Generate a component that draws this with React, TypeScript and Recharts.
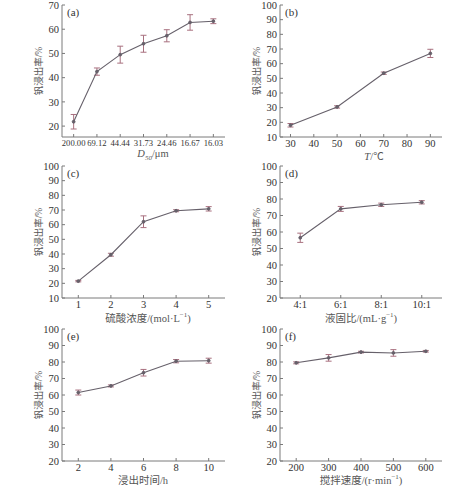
import React from 'react';
import { LineChart, Line, XAxis, YAxis, ErrorBar } from 'recharts';

// (a) particle size
const sizeLabels = ['200.00', '69.12', '44.44', '31.73', '24.46', '16.67', '16.03'];
const sizeValues = [21.8, 42.5, 49.5, 54, 57.3, 62.8, 63.3];
const sizeErrors = [3, 1.5, 3.5, 3.5, 2.5, 3.2, 1];

// (b) temperature
const temps = [30, 50, 70, 90];
const tempValues = [18, 30.5, 53.5, 67];
const tempErrors = [1.2, 0.8, 0.8, 2.8];

// (c) acid concentration
const concs = [1, 2, 3, 4, 5];
const concValues = [21.5, 39.5, 62, 69.5, 70.8];
const concErrors = [0.5, 1, 4, 0.7, 1.5];

// (d) liquid/solid ratio
const ratioLabels = ['4:1', '6:1', '8:1', '10:1'];
const ratioValues = [56.5, 74, 76.5, 78];
const ratioErrors = [2.8, 1.5, 1, 1];

// (e) leaching time
const times = [2, 4, 6, 8, 10];
const timeValues = [61.5, 65.5, 73.5, 80.5, 80.8];
const timeErrors = [1.5, 0.6, 2, 1, 1.5];

// (f) stirring speed
const speeds = [200, 300, 400, 500, 600];
const speedValues = [79.5, 82.5, 86, 85.5, 86.5];
const speedErrors = [0.6, 2, 0.5, 2, 0.5];

const FONT = '"Liberation Serif", "Noto Sans CJK SC", serif';
const AXIS = '#7a7a7a';
const TEXT = '#333';
const LINE = '#66606a';
const ERR = '#a8707f';
const Y_LABEL = '钒浸出率/%';

const build = (xs: (number | string)[], ys: number[], errs: number[], useIndex = false) =>
    xs.map((x, i) => ({ x: useIndex ? i : x, y: ys[i], err: errs[i] }));

interface PanelProps {
    left: number;
    top: number;
    data: { x: number | string; y: number; err: number }[];
    xDomain: [number, number];
    xTicks: number[];
    xFormat?: (v: number) => string;
    yDomain: [number, number];
    yTicks: number[];
    axisLeft: number;
    plotTop: number;
    plotBottom: number;
    plotRight: number;
    tag: string;
    xLabel: React.ReactNode;
    xLabelX: number;
    xTickSize?: number;
}

const Panel: React.FC<PanelProps> = (p) => {
    const W = 237;
    const H = 162;
    const tick = { fill: TEXT, fontSize: 10.5, fontFamily: FONT };
    return (
        <div style={{ position: 'absolute', left: p.left, top: p.top, width: W, height: H }}>
            <LineChart
                width={W}
                height={H}
                data={p.data}
                style={{ overflow: 'visible' }}
                margin={{ top: p.plotTop, right: W - p.plotRight, left: 0, bottom: 0 }}
            >
                <XAxis
                    dataKey="x"
                    type="number"
                    domain={p.xDomain}
                    ticks={p.xTicks}
                    interval={0}
                    tickFormatter={p.xFormat}
                    height={H - p.plotBottom}
                    tick={{ ...tick, fontSize: p.xTickSize || 10.5 }}
                    tickSize={-3}
                    tickMargin={6}
                    axisLine={{ stroke: AXIS }}
                    tickLine={{ stroke: AXIS }}
                />
                <YAxis
                    type="number"
                    domain={p.yDomain}
                    ticks={p.yTicks}
                    interval={0}
                    width={p.axisLeft}
                    tick={tick}
                    tickSize={-3}
                    tickMargin={6}
                    axisLine={{ stroke: AXIS }}
                    tickLine={{ stroke: AXIS }}
                />
                <Line
                    dataKey="y"
                    stroke={LINE}
                    strokeWidth={1.1}
                    dot={{ r: 1.4, fill: LINE, stroke: LINE, strokeWidth: 1 }}
                    isAnimationActive={false}
                >
                    <ErrorBar dataKey="err" width={3} stroke={ERR} strokeWidth={1} isAnimationActive={false} />
                </Line>
            </LineChart>
            <div style={{ position: 'absolute', left: p.axisLeft + 5, top: p.plotTop + 1, fontSize: 11, fontFamily: FONT, color: TEXT }}>
                {p.tag}
            </div>
            <div
                style={{
                    position: 'absolute',
                    left: p.axisLeft - 24,
                    top: (p.plotTop + p.plotBottom) / 2,
                    transform: 'translate(-50%, -50%) rotate(-90deg)',
                    fontSize: 9.5,
                    fontFamily: FONT,
                    color: '#555',
                    whiteSpace: 'nowrap',
                }}
            >
                {Y_LABEL}
            </div>
            <div
                style={{
                    position: 'absolute',
                    left: p.xLabelX,
                    top: 155,
                    transform: 'translate(-50%, -50%)',
                    fontSize: 10.5,
                    fontFamily: FONT,
                    color: '#555',
                    whiteSpace: 'nowrap',
                }}
            >
                {p.xLabel}
            </div>
        </div>
    );
};

const App: React.FC = () => {
    const y100 = [10, 20, 30, 40, 50, 60, 70, 80, 90, 100];
    const y100b = [20, 30, 40, 50, 60, 70, 80, 90, 100];
    return (
        <div style={{ position: 'absolute', left: 0, top: 0, width: 474, height: 486, background: '#fff' }}>
            <Panel
                left={0} top={0}
                data={build(sizeLabels, sizeValues, sizeErrors, true)}
                xDomain={[-0.5, 6.5]}
                xTicks={sizeLabels.map((_, i) => i)}
                xFormat={(v) => sizeLabels[v]}
                xTickSize={8.6}
                yDomain={[15.5, 70]}
                yTicks={[20, 30, 40, 50, 60, 70]}
                axisLeft={62} plotTop={5} plotBottom={137} plotRight={225}
                tag="(a)"
                xLabel={<span><i>D</i><sub style={{ fontSize: 7 }}><i>50</i></sub>/μm</span>}
                xLabelX={153}
            />
            <Panel
                left={237} top={0}
                data={build(temps, tempValues, tempErrors)}
                xDomain={[25.5, 95]}
                xTicks={[30, 40, 50, 60, 70, 80, 90]}
                yDomain={[10, 100]}
                yTicks={y100}
                axisLeft={43} plotTop={5} plotBottom={137} plotRight={205}
                tag="(b)"
                xLabel={<span><i>T</i>/℃</span>}
                xLabelX={137}
            />
            <Panel
                left={0} top={162}
                data={build(concs, concValues, concErrors)}
                xDomain={[0.5, 5.5]}
                xTicks={concs}
                yDomain={[10, 100]}
                yTicks={y100}
                axisLeft={62} plotTop={4} plotBottom={136} plotRight={225}
                tag="(c)"
                xLabel={<span>硫酸浓度/(mol·L<sup style={{ fontSize: 7 }}>−1</sup>)</span>}
                xLabelX={148}
            />
            <Panel
                left={237} top={162}
                data={build(ratioLabels, ratioValues, ratioErrors, true)}
                xDomain={[-0.5, 3.5]}
                xTicks={ratioLabels.map((_, i) => i)}
                xFormat={(v) => ratioLabels[v]}
                yDomain={[20, 100]}
                yTicks={y100b}
                axisLeft={43} plotTop={4} plotBottom={136} plotRight={205}
                tag="(d)"
                xLabel={<span>液固比/(mL·g<sup style={{ fontSize: 7 }}>−1</sup>)</span>}
                xLabelX={124}
            />
            <Panel
                left={0} top={324}
                data={build(times, timeValues, timeErrors)}
                xDomain={[1, 11]}
                xTicks={times}
                yDomain={[20, 100]}
                yTicks={y100b}
                axisLeft={62} plotTop={5} plotBottom={137} plotRight={225}
                tag="(e)"
                xLabel={<span>浸出时间/h</span>}
                xLabelX={143}
            />
            <Panel
                left={237} top={324}
                data={build(speeds, speedValues, speedErrors)}
                xDomain={[150, 650]}
                xTicks={speeds}
                yDomain={[20, 100]}
                yTicks={y100b}
                axisLeft={43} plotTop={5} plotBottom={137} plotRight={205}
                tag="(f)"
                xLabel={<span>搅拌速度/(r·min<sup style={{ fontSize: 7 }}>−1</sup>)</span>}
                xLabelX={124}
            />
        </div>
    );
};

export default App;
